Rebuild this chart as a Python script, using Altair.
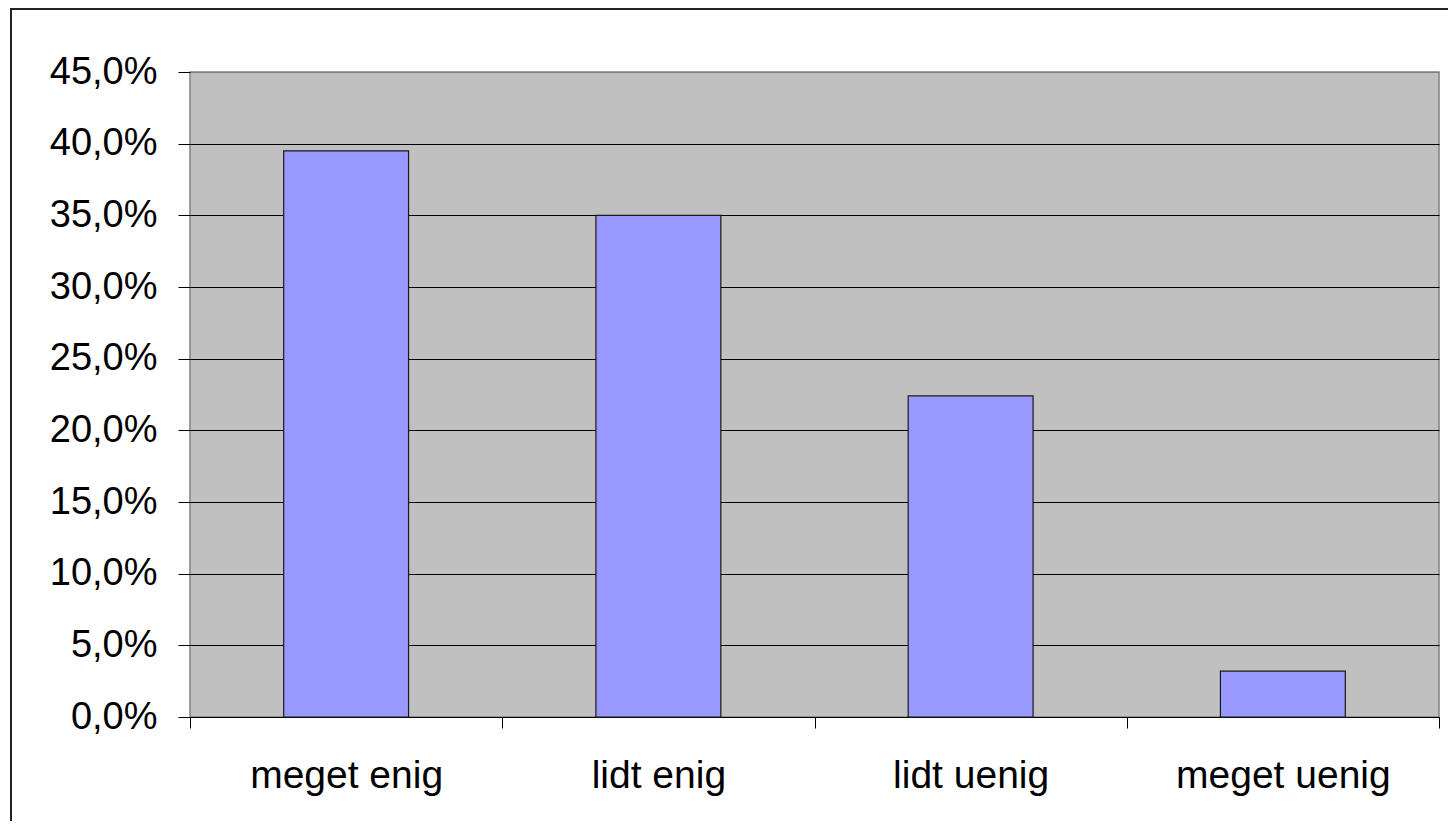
import altair as alt
import pandas as pd

categories = ["meget enig", "lidt enig", "lidt uenig", "meget uenig"]
shares = [0.395, 0.350, 0.224, 0.032]
y_ticks = [0.0, 0.05, 0.10, 0.15, 0.20, 0.25, 0.30, 0.35, 0.40, 0.45]

df = pd.DataFrame({"kategori": categories, "andel": shares})

FONT = "Liberation Sans"

bars = alt.Chart(df).mark_bar(
    width={"band": 0.4}, color="#9999FF", stroke="#1a1a1a", strokeWidth=1.2
).encode(
    x=alt.X(
        "kategori:N",
        sort=categories,
        title=None,
        scale=alt.Scale(paddingInner=0, paddingOuter=0),
        axis=alt.Axis(
            labelAngle=0,
            labelFont=FONT,
            labelFontSize=39,
            labelColor="#000000",
            labelPadding=28,
            labelLimit=0,
            tickBand="extent",
            tickSize=11,
            tickColor="#000000",
            domainColor="#000000",
            grid=False,
        ),
    ),
    y=alt.Y(
        "andel:Q",
        title=None,
        scale=alt.Scale(domain=[0, 0.45], nice=False),
        axis=alt.Axis(
            values=y_ticks,
            labelExpr="replace(format(datum.value, '.1%'), '.', ',')",
            labelFont=FONT,
            labelFontSize=38,
            labelColor="#000000",
            labelPadding=21,
            labelLimit=0,
            tickSize=12,
            tickColor="#000000",
            domain=False,
            grid=True,
            gridColor={"condition": {"test": "datum.value >= 0.449", "value": "#808080"}, "value": "#000000"},
            gridWidth=1,
        ),
    ),
)

frame_df = pd.DataFrame({"k": [1]})
frame_left = alt.Chart(frame_df).mark_rule(color="#222222", strokeWidth=2).encode(
    x=alt.value(-179), y=alt.value(-63), y2=alt.value(800)
)
frame_top = alt.Chart(frame_df).mark_rule(color="#222222", strokeWidth=2).encode(
    x=alt.value(-180), x2=alt.value(1300), y=alt.value(-63)
)

chart = alt.layer(bars, frame_left, frame_top).properties(
    width=1249,
    height=645,
    autosize=alt.AutoSizeParams(type="none"),
    padding={"left": 182, "top": 64, "right": 9, "bottom": 104},
    background="#FFFFFF",
).configure_view(
    fill="#C0C0C0", stroke="#808080", strokeWidth=1.5
)

chart.save("out.html", embed_options={"renderer": "svg", "actions": False})
